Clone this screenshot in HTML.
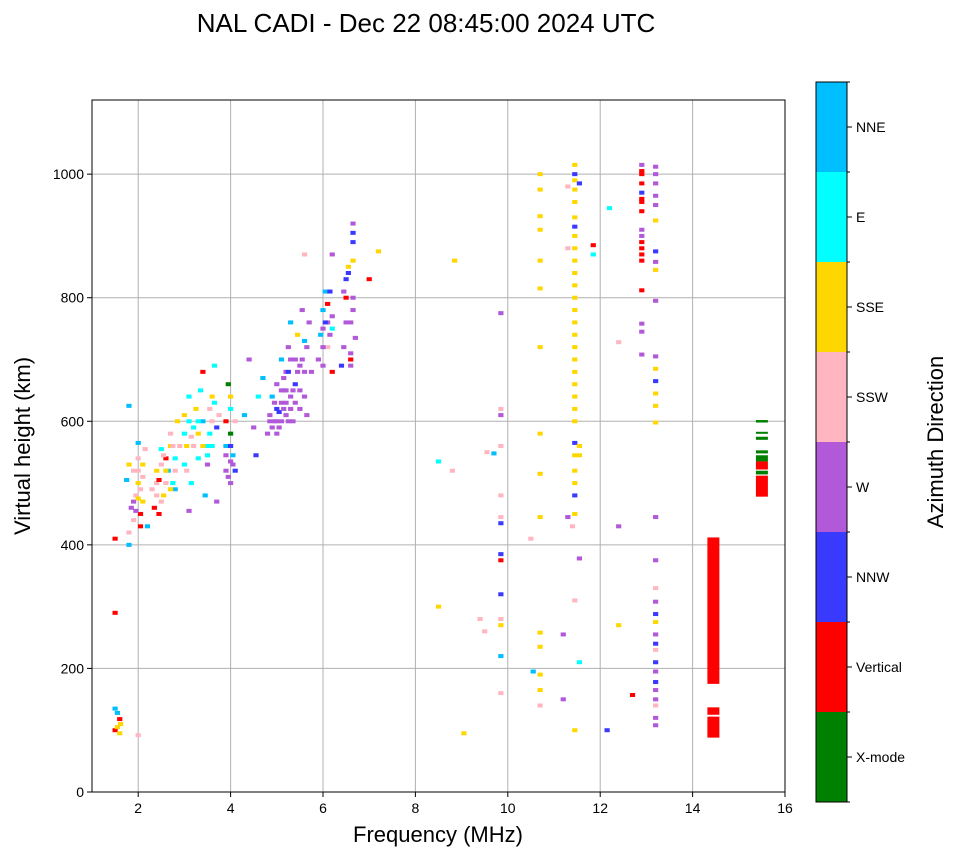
<!DOCTYPE html>
<html><head><meta charset="utf-8">
<style>
html,body{margin:0;padding:0;background:#fff;}
body{width:958px;height:857px;overflow:hidden;font-family:"Liberation Sans",sans-serif;}
svg text{font-family:"Liberation Sans",sans-serif;}
</style></head>
<body>
<svg id="chart" width="958" height="857" xmlns="http://www.w3.org/2000/svg">
<text x="426" y="32" font-size="26" text-anchor="middle" fill="#000">NAL CADI - Dec 22 08:45:00 2024 UTC</text>
<g id="grid"></g>
<g id="marks"></g>
<rect x="92" y="100" width="693" height="692" fill="none" stroke="#000" stroke-width="1"/>
<g id="axes"></g>
<text x="438" y="842" font-size="22" text-anchor="middle">Frequency (MHz)</text>
<text transform="translate(30,446) rotate(-90)" font-size="22" text-anchor="middle">Virtual height (km)</text>
<g id="colorbar"></g>
<text transform="translate(943,442) rotate(-90)" font-size="22" text-anchor="middle">Azimuth Direction</text>
</svg>
<script>
const categories = ["X-mode","Vertical","NNW","W","SSW","SSE","E","NNE"];
const catColors = ["#008000","#ff0000","#3a3aff","#b159d8","#ffb6c1","#ffd700","#00ffff","#00bfff"];
const xTicks = [2,4,6,8,10,12,14,16];
const yTicks = [0,200,400,600,800,1000];
// echoes: [frequency MHz, virtual height km, category index]
const echoes = [
[1.5,100,1],[1.55,105,5],[1.6,95,5],[1.5,135,7],[1.55,128,7],[1.6,118,1],[1.62,110,5],[1.5,290,1],[1.5,410,1],[2.0,92,4],
[1.8,400,7],[1.8,420,4],[1.75,505,7],[1.8,530,5],[1.85,460,3],[1.9,470,3],[1.9,520,4],[1.95,480,4],[2.0,500,5],[2.0,540,4],[2.0,565,7],[2.05,450,1],[2.05,430,1],[2.1,470,5],[2.1,510,4],[1.8,625,7],
[2.2,430,7],[2.3,490,4],[2.35,460,1],[2.4,500,4],[2.4,520,5],[2.45,450,1],[2.5,530,4],[2.5,555,6],[2.55,480,5],[2.6,500,4],[2.6,540,1],[2.65,520,7],[2.7,560,5],[2.7,580,4],[2.75,500,6],[2.8,490,7],[2.8,540,6],[2.85,600,5],
[2.9,560,4],[3.0,580,6],[3.0,610,5],[3.05,520,4],[3.1,640,6],[3.1,455,3],[3.15,500,6],[3.2,560,4],[3.2,590,6],[3.25,620,5],[3.3,540,6],[3.3,580,5],[3.35,650,6],[3.4,600,7],[3.4,680,1],[3.45,480,7],[3.5,560,6],[3.5,530,3],[3.55,620,4],[3.6,640,5],[3.6,560,6],[3.65,690,6],[3.7,470,3],[3.7,590,2],[3.75,610,4],
[3.9,520,3],[3.9,560,7],[3.9,600,1],[3.95,660,0],[4.0,500,3],[4.0,535,3],[4.0,580,0],[4.0,620,6],[4.05,545,7],[4.1,520,2],[4.1,600,4],[4.3,610,7],[4.4,700,3],[4.5,590,3],[4.55,545,2],[4.6,640,6],[4.7,670,7],
[4.8,580,3],[4.85,610,3],[4.9,640,7],[4.95,600,3],[5.0,620,2],[5.0,660,3],[5.05,590,3],[5.1,630,3],[5.1,700,7],[5.15,650,2],[5.2,610,3],[5.2,680,3],[5.25,720,3],[5.3,640,3],[5.3,760,7],[5.35,600,3],[5.4,660,2],[5.4,700,3],[5.45,740,5],[5.5,620,3],[5.5,690,3],[5.55,780,3],[5.6,640,3],[5.6,730,7],[5.65,610,3],[5.7,760,3],[5.75,680,3],[5.6,870,4],
[5.9,700,3],[5.95,740,7],[6.0,690,3],[6.0,780,7],[6.05,810,7],[6.1,720,4],[6.1,760,3],[6.15,810,2],[6.2,680,1],[6.2,750,6],[6.2,870,3],[6.4,690,2],[6.45,720,3],[6.5,760,3],[6.5,800,1],[6.55,840,2],[6.6,700,1],[6.6,710,3],[6.65,860,5],[6.65,890,2],[6.65,920,3],[6.7,735,3],[6.65,780,3],[7.0,830,1],[7.2,875,5],
[8.5,535,6],[8.5,300,5],[8.8,520,4],[8.85,860,5],[9.05,95,5],[9.4,280,4],[9.5,260,4],[9.55,550,4],[9.7,548,7],
[9.85,160,4],[9.85,220,7],[9.85,270,5],[9.85,280,4],[9.85,320,2],[9.85,385,2],[9.85,375,1],[9.85,435,2],[9.85,445,4],[9.85,480,4],[9.85,560,4],[9.85,610,3],[9.85,620,4],[9.85,775,3],
[10.5,410,4],[10.55,195,7],[10.7,140,4],[10.7,165,5],[10.7,190,5],[10.7,235,5],[10.7,258,5],[10.7,445,5],[10.7,515,5],[10.7,580,5],[10.7,720,5],[10.7,815,5],[10.7,860,5],[10.7,910,5],[10.7,932,5],[10.7,975,5],[10.7,1000,5],
[11.2,255,3],[11.2,150,3],[11.3,445,3],[11.3,880,4],[11.3,980,4],[11.4,430,4],
[11.45,100,5],[11.45,310,4],[11.45,450,5],[11.45,480,2],[11.45,500,5],[11.45,520,5],[11.45,545,5],[11.45,565,2],[11.45,600,5],[11.45,620,5],[11.45,640,5],[11.45,660,5],[11.45,680,5],[11.45,700,5],[11.45,720,5],[11.45,740,5],[11.45,760,5],[11.45,780,5],[11.45,800,5],[11.45,820,5],[11.45,840,5],[11.45,860,5],[11.45,880,5],[11.45,900,5],[11.45,915,2],[11.45,930,5],[11.45,955,5],[11.45,975,5],[11.45,990,5],[11.45,1000,2],[11.45,1015,5],
[11.55,210,6],[11.55,378,3],[11.55,545,5],[11.55,560,5],[11.55,985,2],[11.85,870,6],[11.85,885,1],[12.15,100,2],[12.2,945,6],[12.4,270,5],[12.4,430,3],[12.4,728,4],[12.7,157,1],
[12.9,860,1],[12.9,870,1],[12.9,880,1],[12.9,890,1],[12.9,900,3],[12.9,910,3],[12.9,940,1],[12.9,955,1],[12.9,960,1],[12.9,970,2],[12.9,985,1],[12.9,1000,1],[12.9,1005,1],[12.9,1015,3],[12.9,812,1],[12.9,758,3],[12.9,745,3],[12.9,708,3],
[13.2,108,3],[13.2,120,3],[13.2,140,4],[13.2,150,3],[13.2,165,3],[13.2,178,2],[13.2,195,3],[13.2,210,2],[13.2,230,4],[13.2,240,2],[13.2,255,3],[13.2,275,5],[13.2,288,2],[13.2,308,3],[13.2,330,4],[13.2,375,3],[13.2,445,3],[13.2,598,5],[13.2,625,5],[13.2,645,5],[13.2,665,2],[13.2,685,5],[13.2,705,3],[13.2,795,3],[13.2,845,5],[13.2,858,3],[13.2,875,2],[13.2,925,5],[13.2,950,3],[13.2,965,3],[13.2,985,3],[13.2,1000,3],[13.2,1012,3],
[1.9,440,4],[1.95,455,3],[2.0,475,5],[2.0,520,4],[2.05,490,4],[2.1,530,5],[2.15,555,4],[2.4,480,4],[2.45,505,1],[2.5,470,4],[2.55,545,4],[2.6,520,5],[2.7,490,5],[2.75,560,4],[2.8,520,4],
[3.0,530,6],[3.05,560,5],[3.1,600,6],[3.15,575,4],[3.3,600,6],[3.4,560,5],[3.5,545,6],[3.55,580,6],[3.6,600,4],[3.65,630,6],[3.9,545,3],[3.95,510,3],[4.0,560,2],[4.0,640,5],[4.05,530,3],
[4.85,600,3],[4.9,590,3],[4.95,630,3],[5.0,580,3],[5.0,600,3],[5.05,615,2],[5.1,600,3],[5.1,650,3],[5.15,620,3],[5.15,670,3],[5.2,630,3],[5.2,650,3],[5.25,600,3],[5.25,680,2],[5.3,620,3],[5.3,700,3],[5.35,650,3],[5.4,630,3],[5.45,680,3],[5.5,650,3],[5.55,700,3],[5.6,680,3],[5.65,720,3],
[6.0,720,3],[6.0,750,3],[6.05,760,2],[6.1,790,1],[6.15,740,3],[6.2,770,3],[6.45,810,3],[6.5,830,2],[6.55,850,5],[6.6,690,3],[6.6,760,3],[6.65,905,2],[6.65,800,3]
];
// bars: [frequency, low km, high km, category]
const bars = [
[14.45,175,412,1],[14.45,88,122,1],[14.45,125,137,1],
[15.5,478,512,1],[15.5,514,520,0],[15.5,522,535,1],[15.5,535,545,0],[15.5,548,553,0],[15.5,570,575,0],[15.5,580,583,0],[15.5,598,602,0]
];
const NS="http://www.w3.org/2000/svg";
const X0=92,X1=785,Y0=792,Y1=100,FMIN=1,FMAX=16,HMAX=1120;
function xs(f){return X0+(f-FMIN)/(FMAX-FMIN)*(X1-X0);}
function ys(h){return Y0-h/HMAX*(Y0-Y1);}
function mk(tag,attrs,parent){const e=document.createElementNS(NS,tag);for(const k in attrs)e.setAttribute(k,attrs[k]);parent.appendChild(e);return e;}
const grid=document.getElementById('grid'),axes=document.getElementById('axes'),marks=document.getElementById('marks'),cb=document.getElementById('colorbar');
xTicks.forEach(t=>{const x=xs(t);
 if(t<FMAX){const g=mk('line',{x1:x,x2:x,y1:Y1,y2:Y0,stroke:'#b0b0b0','stroke-width':1},grid);
 
 }
 const tk=mk('line',{x1:x,x2:x,y1:Y0,y2:Y0+5,stroke:'#000'},axes);
 
 
 const l=mk('text',{x:x,y:Y0+21,'font-size':14,'text-anchor':'middle'},axes);l.textContent=t;
 
 
});
yTicks.forEach(t=>{const y=ys(t);
 if(t>0){const g=mk('line',{x1:X0,x2:X1,y1:y,y2:y,stroke:'#b0b0b0','stroke-width':1},grid);
 
 }
 const tk=mk('line',{x1:X0-5,x2:X0,y1:y,y2:y,stroke:'#000'},axes);
 
 
 const l=mk('text',{x:X0-8,y:y+5,'font-size':14,'text-anchor':'end'},axes);l.textContent=t;
 
 
});
echoes.forEach(p=>{const x=xs(p[0]),y=ys(p[1]);
 const r=mk('rect',{x:x-2.6,y:y-2,width:5.2,height:4,fill:catColors[p[2]]},marks);
 
 
});
bars.forEach(b=>{const x=xs(b[0]),yt=ys(b[2]),yb=ys(b[1]);
 const r=mk('rect',{x:x-6,y:yt,width:12,height:Math.max(2,yb-yt),fill:catColors[b[3]]},marks);
 
 
});
const CBX=816,CBW=31,CBT=82,CBB=802,seg=(CBB-CBT)/categories.length;
categories.forEach((c,i)=>{const y=CBB-(i+1)*seg;
 const r=mk('rect',{x:CBX,y:y,width:CBW,height:seg,fill:catColors[i]},cb);
 
 
 const tk=mk('line',{x1:CBX+CBW,x2:CBX+CBW+5,y1:y+seg/2,y2:y+seg/2,stroke:'#000'},cb);
 
 
 const t=mk('text',{x:CBX+CBW+9,y:y+seg/2+5,'font-size':14},cb);t.textContent=c;
 
 
});
for(let i=0;i<=categories.length;i++){const y=CBB-i*seg;
 const tk=mk('line',{x1:CBX+CBW,x2:CBX+CBW+3,y1:y,y2:y,stroke:'#000'},cb);
 
 }
const fr=mk('rect',{x:CBX,y:CBT,width:CBW,height:CBB-CBT,fill:'none',stroke:'#000'},cb);


</script>
</body></html>
